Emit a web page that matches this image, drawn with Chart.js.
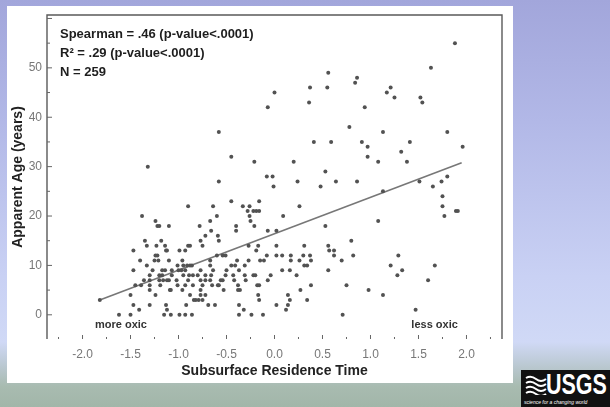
<!DOCTYPE html>
<html>
<head>
<meta charset="utf-8">
<script src="https://cdn.jsdelivr.net/npm/chart.js@4.4.0/dist/chart.umd.min.js"></script>
<style>
  html, body { margin: 0; padding: 0; }
  body {
    width: 610px; height: 407px; overflow: hidden; position: relative;
    font-family: "Liberation Sans", Arial, sans-serif;
    background: linear-gradient(180deg, #a2a6db 0%, #b2b8e7 30%, #c9d1f4 68%, #d0d9f6 84%, #b6c5ca 91%, #a8bbb0 95%, #a2b6a9 100%);
  }
  #panel { position: absolute; left: 7px; top: 6px; width: 506px; height: 377px; background: #fff; }
  #wrap { position: absolute; left: 0; top: 0; width: 610px; height: 407px; }
  #logo { position: absolute; left: 521px; top: 370px; width: 89px; height: 37px; background: #111; color: #fff; overflow: hidden; }
  #logo svg { position: absolute; left: 4px; top: 5px; }
  #logo .usgs { position: absolute; left: 25px; top: 0; font: bold 29px/29px "Liberation Sans", Arial, sans-serif; transform: scaleX(0.74); transform-origin: left top; }
  #logo .tag { position: absolute; left: 3px; top: 29px; font: italic 5px "Liberation Sans", Arial, sans-serif; white-space: nowrap; }
</style>
</head>
<body>
<div id="panel"></div>
<div id="wrap"><canvas id="scatterChart"></canvas></div>
<div id="logo">
  <svg width="22" height="20" viewBox="0 0 22 20">
    <path d="M1 3 Q6 0 11 4 T21 4" stroke="#fff" stroke-width="2" fill="none"/>
    <path d="M1 8 Q6 5 11 9 T21 9" stroke="#fff" stroke-width="2" fill="none"/>
    <path d="M1 13 Q6 10 11 14 T21 14" stroke="#fff" stroke-width="2" fill="none"/>
    <path d="M1 18 Q6 15 11 19 T21 19" stroke="#fff" stroke-width="2" fill="none"/>
  </svg>
  <span class="usgs">USGS</span>
  <div class="tag">science for a changing world</div>
</div>
<script>
// apparent age levels (years) and the residence times read at each level
const ages = [0, 1, 2, 3, 4, 5, 6, 7, 8, 9, 10, 11, 12, 13, 14, 15, 16, 17, 18, 19, 20,
  21, 22, 23, 24, 25, 26, 27, 28, 29, 30, 31, 32, 33, 34, 35, 37, 38, 42, 43, 44, 45,
  46, 47, 48, 49, 50, 55];
const residenceTimes = [
  [-1.62, -1.50, -1.15, -1.08, -0.99, -0.93, -0.86, -0.37, -0.24, -0.12, 0.71],
  [-1.41, -1.12, -0.32, 0.12, 1.47],
  [-1.47, -1.30, -1.13, -0.92, -0.69, -0.62, -0.37, 0.02, 0.14],
  [-1.82, -0.84, -0.82, -0.79, -0.75, -0.16, 0.16, 0.34],
  [-1.50, -1.24, -0.88, -0.77, -0.72, -0.17, 0.14, 1.13],
  [-1.30, -1.09, -1.08, -0.96, -0.77, -0.53, -0.38, -0.36, 0.27, 0.98],
  [-1.45, -1.39, -1.30, -1.19, -1.01, -0.93, -0.85, -0.75, -0.65, -0.59, -0.58, -0.38, -0.18, -0.16, 0.38, 0.75],
  [-1.36, -1.30, -1.20, -1.16, -1.12, -1.10, -1.02, -0.90, -0.77, -0.72, -0.67, -0.56, -0.54, -0.42, -0.30, -0.07, 1.60],
  [-1.30, -1.20, -1.17, -1.07, -0.95, -0.89, -0.85, -0.80, -0.72, -0.66, -0.51, -0.43, -0.31, -0.22, -0.20, -0.04, 0.23, 1.28],
  [-1.47, -1.27, -1.17, -1.14, -1.07, -1.00, -0.97, -0.93, -0.77, -0.64, -0.50, -0.37, 0.08, 0.16, 0.56, 1.33],
  [-1.33, -1.01, -0.95, -0.91, -0.88, -0.86, -0.67, -0.45, -0.41, -0.31, 0.31, 0.34, 1.21, 1.67],
  [-1.40, -1.25, -1.21, -1.10, -0.96, -0.67, -0.39, -0.27, -0.15, -0.11, 0.17, 0.26, 0.38, 0.70],
  [-1.24, -1.22, -0.60, -0.54, -0.51, -0.08, 0.02, 0.08, 0.17, 0.30, 0.37, 0.62, 0.82, 1.29],
  [-1.47, -1.13, -1.12, -0.99, -0.93, -0.19, 0.57, 0.62],
  [-1.33, -1.23, -1.14, -0.90, -0.88, -0.75, -0.27, -0.17, 0.02, 0.31, 0.56],
  [-1.35, -1.18, -0.77, -0.58, 0.80],
  [-0.72, -0.59],
  [-0.66, -0.40, -0.07, 0.02],
  [-1.22, -1.20, -1.10, -0.78, -0.40, -0.21, 0.53],
  [-1.24, -0.67, -0.25, 1.08],
  [-1.38, -0.60, -0.26, 0.09, 1.77],
  [-0.28, -0.22, -0.19, -0.16, 1.89, 1.91],
  [-0.90, -0.64, -0.33, -0.26, 0.26, 1.75],
  [-0.45, -0.16],
  [1.75],
  [1.13],
  [-0.01, 0.48, 1.65],
  [-0.58, 0.24, 0.64, 0.86, 1.51, 1.74],
  [-0.08, -0.02, 1.80],
  [0.53],
  [-1.32],
  [-0.21, 0.20, 1.08, 1.38],
  [-0.45, 0.97],
  [1.32],
  [0.97, 1.96],
  [0.41, 0.59, 0.91, 1.41],
  [-0.58, 1.13, 1.80],
  [0.78],
  [-0.07, 0.94],
  [0.36, 1.54],
  [1.25, 1.52],
  [0.00, 1.17],
  [0.37, 0.55, 1.21],
  [0.84],
  [0.86],
  [0.56],
  [1.63],
  [1.88]
];

// regression line end points
const fitX = [-1.82, 1.95];
const fitY = [3.0, 30.8];

const statsLines = ['Spearman = .46 (p-value<.0001)', 'R\u00b2 = .29 (p-value<.0001)', 'N = 259'];

const points = [];
ages.forEach((age, i) => {
  residenceTimes[i].forEach(t => points.push({ x: t, y: age }));
});
const fitLine = fitX.map((x, i) => ({ x: x, y: fitY[i] }));

// frame, inward tick marks and text notes
const framePlugin = {
  id: 'frame',
  afterDatasetsDraw(chart) {
    const { ctx, chartArea: a, scales: { x, y } } = chart;
    ctx.save();
    ctx.strokeStyle = '#5a5a5a';
    ctx.lineWidth = 1.4;
    ctx.beginPath();
    ctx.moveTo(a.left, a.bottom);
    ctx.lineTo(a.left, a.top);
    ctx.lineTo(a.right, a.top);
    ctx.lineTo(a.right, a.bottom);
    ctx.stroke();

    ctx.lineWidth = 1;
    ctx.strokeStyle = '#666';
    ctx.beginPath();
    for (let v = -5; v <= 60; v += 5) {
      const py = y.getPixelForValue(v);
      if (py < a.top || py > a.bottom) continue;
      const len = v % 10 === 0 ? 5 : 3;
      ctx.moveTo(a.left, py);
      ctx.lineTo(a.left + len, py);
    }
    for (let k = -9; k <= 9; k++) {
      const px = x.getPixelForValue(k * 0.25);
      const len = k % 2 === 0 ? 4 : 2;
      ctx.moveTo(px, a.bottom);
      ctx.lineTo(px, a.bottom - len);
    }
    ctx.stroke();

    ctx.fillStyle = '#1e1e1e';
    ctx.font = 'bold 13px "Liberation Sans", Arial, sans-serif';
    ctx.textBaseline = 'middle';
    ctx.textAlign = 'left';
    statsLines.forEach((s, i) => ctx.fillText(s, a.left + 13, a.top + 19 + i * 19));

    ctx.fillStyle = '#333';
    ctx.font = 'bold 11px "Liberation Sans", Arial, sans-serif';
    ctx.fillText('more oxic', x.getPixelForValue(-1.87), y.getPixelForValue(-2.1));
    ctx.textAlign = 'right';
    ctx.fillText('less oxic', x.getPixelForValue(1.91), y.getPixelForValue(-2.1));
    ctx.restore();
  }
};

const ctx = document.getElementById('scatterChart').getContext('2d');
new Chart(ctx, {
  type: 'scatter',
  data: {
    datasets: [
      {
        label: 'Samples',
        data: points,
        backgroundColor: '#525252',
        borderWidth: 0,
        pointRadius: 2
      },
      {
        label: 'Fit',
        data: fitLine,
        showLine: true,
        borderColor: '#777',
        borderWidth: 1.6,
        pointRadius: 0
      }
    ]
  },
  options: {
    responsive: true,
    maintainAspectRatio: false,
    animation: false,
    layout: { padding: { top: 15, right: 108, left: 0, bottom: 0 } },
    scales: {
      x: {
        type: 'linear',
        min: -2.37,
        max: 2.37,
        grid: { display: false, drawTicks: false },
        border: { display: false },
        ticks: {
          stepSize: 0.5,
          includeBounds: false,
          padding: 8,
          color: '#777',
          font: { size: 12, family: '"Liberation Sans", Arial, sans-serif' },
          callback: v => Number(v).toFixed(1)
        },
        title: {
          display: true,
          text: 'Subsurface Residence Time',
          color: '#222',
          padding: 27,
          font: { size: 14, weight: 'bold', family: '"Liberation Sans", Arial, sans-serif' }
        },
        afterFit: s => { s.height = 68; }
      },
      y: {
        min: -4.9,
        max: 60.7,
        grid: { display: false, drawTicks: false },
        border: { display: false },
        ticks: {
          stepSize: 10,
          includeBounds: false,
          padding: 5,
          color: '#777',
          font: { size: 12, family: '"Liberation Sans", Arial, sans-serif' },
          callback: v => (v >= 0 && v <= 50 ? v : '')
        },
        title: {
          display: true,
          text: 'Apparent Age (years)',
          color: '#222',
          padding: 10,
          font: { size: 14, weight: 'bold', family: '"Liberation Sans", Arial, sans-serif' }
        },
        afterFit: s => { s.width = 47; }
      }
    },
    plugins: {
      legend: { display: false },
      tooltip: { enabled: false }
    }
  },
  plugins: [framePlugin]
});
</script>
</body>
</html>
